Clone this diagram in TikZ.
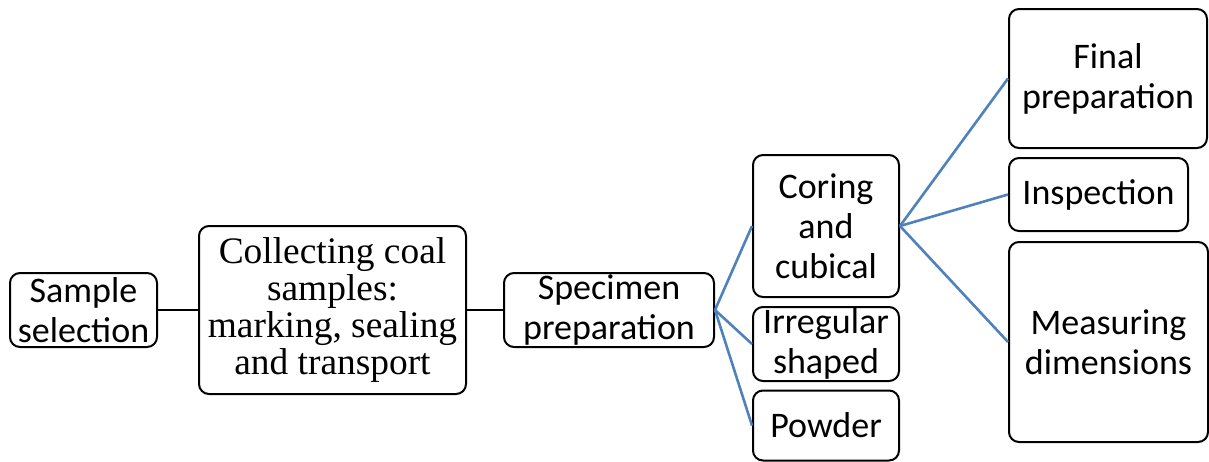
\documentclass[tikz,border=0pt]{standalone}
\usepackage{fontspec}
\setmainfont{Carlito}
\newfontfamily\timesfont{Liberation Serif}
\usetikzlibrary{positioning}
\definecolor{linkblue}{RGB}{79,129,189}

\begin{document}
\begin{tikzpicture}[x=0.5pt,y=-0.5pt,
  font=\fontsize{18}{20}\selectfont,
  box/.style={draw,line width=1pt,rounded corners=5pt,inner sep=0pt,align=center},
  link/.style={line width=1pt},
  sub/.style={line width=1.3pt,draw=linkblue}]
  \useasboundingbox (0,0) rectangle (1209,461);
  % main chain
  \node[box,minimum width=73.5pt,minimum height=37pt] (sel) at (83.5,310) {Sample\\selection};
  \node[box,minimum width=133.5pt,minimum height=84pt,
    font=\timesfont\fontsize{18.7}{18.5}\selectfont] (coll) at (332.5,310)
    {Collecting coal\\samples:\\marking, sealing\\and transport};
  \node[box,minimum width=105pt,minimum height=37pt] (spec) at (609,310) {Specimen\\preparation};
  % specimen types
  \node[box,minimum width=73pt,minimum height=71pt] (cor) at (826,226) {Coring\\and\\cubical};
  \node[box,minimum width=73pt,minimum height=37pt] (irr) at (826,344) {Irregular\\shaped};
  \node[box,minimum width=73pt,minimum height=35pt] (pow) at (826,425.5) {Powder};
  % steps after coring
  \node[box,minimum width=99pt,minimum height=69.5pt] (fin) at (1108,78.5) {Final\\preparation};
  \node[box,minimum width=89.5pt,minimum height=36.5pt] (insp) at (1098.5,194.5) {Inspection};
  \node[box,minimum width=99.5pt,minimum height=100pt] (meas) at (1108.5,342) {Measuring\\dimensions};
  \draw[link] (sel) -- (coll);
  \draw[link] (coll) -- (spec);
  \draw[sub] (spec.east) -- (cor.west);
  \draw[sub] (spec.east) -- (irr.west);
  \draw[sub] (spec.east) -- (pow.west);
  \draw[sub] (cor.east) -- (fin.west);
  \draw[sub] (cor.east) -- (insp.west);
  \draw[sub] (cor.east) -- (meas.west);
\end{tikzpicture}
\end{document}
